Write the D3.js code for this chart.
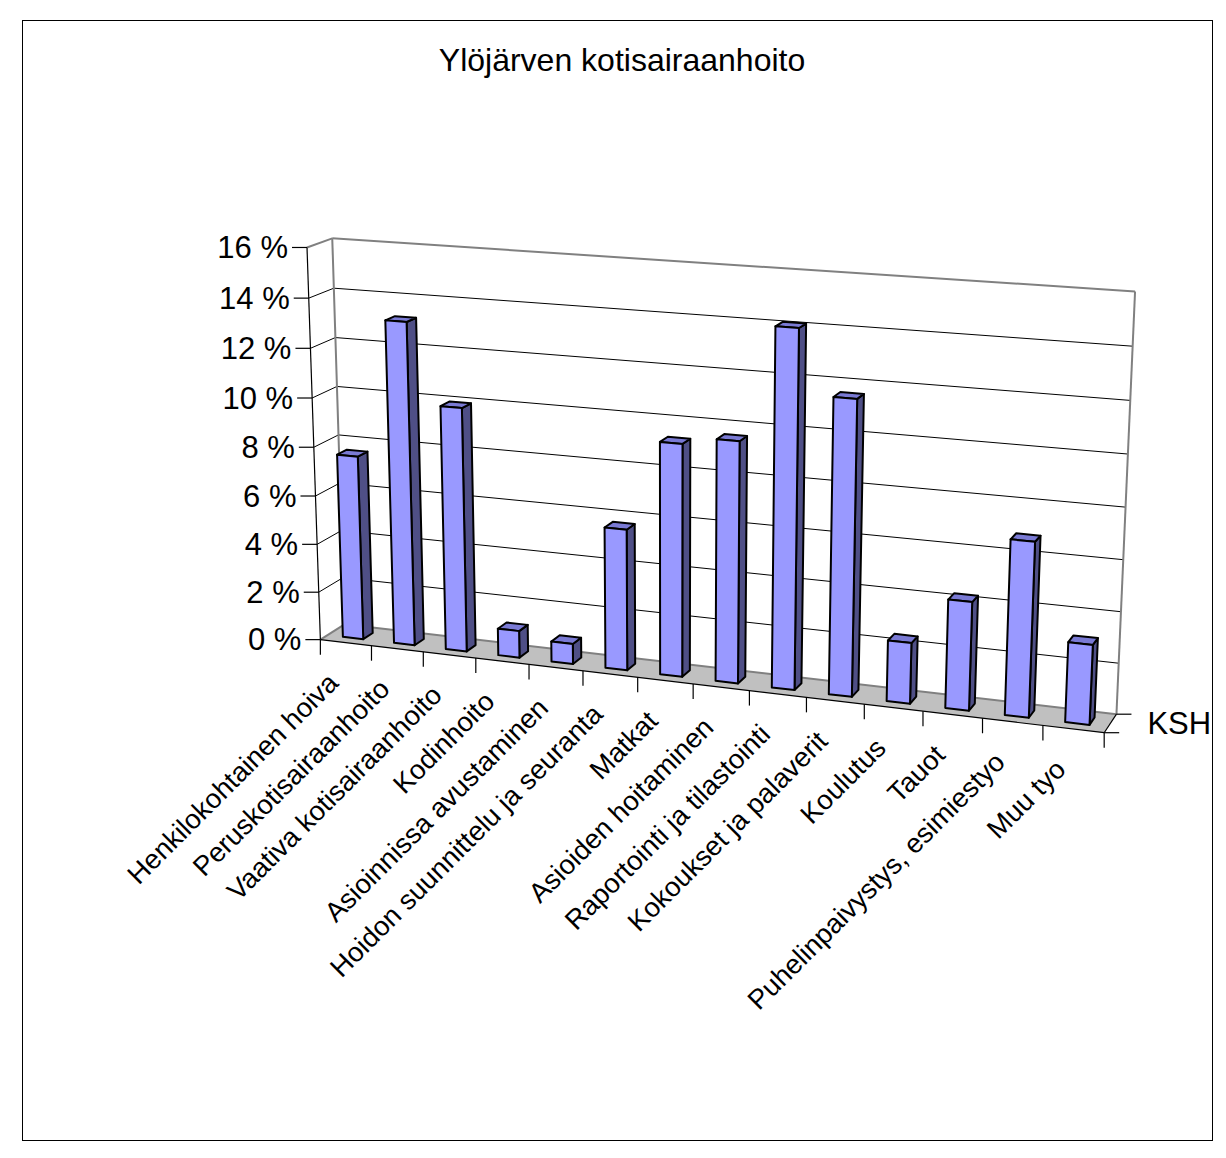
<!DOCTYPE html>
<html>
<head>
<meta charset="utf-8">
<script src="https://cdn.jsdelivr.net/npm/d3@7"></script>
<style>
  html, body { margin: 0; padding: 0; background: #ffffff; }
  svg { display: block; }
  text { font-family: Arial, "Liberation Sans", Helvetica, sans-serif; fill: #000; }
</style>
</head>
<body>
<svg id="chart" width="1226" height="1158"></svg>
<script>
// ---- data ----
const chartTitle = "Ylöjärven kotisairaanhoito";
const seriesName = "KSH";
const categories = [
  "Henkilokohtainen hoiva",
  "Peruskotisairaanhoito",
  "Vaativa kotisairaanhoito",
  "Kodinhoito",
  "Asioinnissa avustaminen",
  "Hoidon suunnittelu ja seuranta",
  "Matkat",
  "Asioiden hoitaminen",
  "Raportointi ja tilastointi",
  "Kokoukset ja palaverit",
  "Koulutus",
  "Tauot",
  "Puhelinpaivystys, esimiestyo",
  "Muu tyo"
];
const values = [7.6, 13.2, 9.95, 1.1, 0.82, 5.7, 9.3, 9.6, 14.1, 11.6, 2.4, 4.25, 6.8, 3.1];
const valueTicks = [0, 2, 4, 6, 8, 10, 12, 14, 16];

// ---- camera: where points of the unit plot box land on the page ----
// world coords: x = category axis (0..1), y = value axis (0..1), z = depth (0 front .. 1 back)
const viewAnchors = [
  { w: [0, 1, 0], s: [306.0, 247.3] },
  { w: [0, 1, 1], s: [333.3, 238.3] },
  { w: [1, 1, 1], s: [1135.0, 291.7] },
  { w: [0, 0, 0], s: [321.7, 639.3] },
  { w: [0, 0, 1], s: [343.3, 625.0] },
  { w: [1, 0, 1], s: [1116.7, 713.3] },
  { w: [1, 0, 0], s: [1104.3, 733.3] },
  { w: [4 / 14, 0, 0], s: [529.0, 664.2] },
  { w: [7 / 14, 0, 0], s: [693.0, 683.9] },
  { w: [10 / 14, 0, 0], s: [864.0, 704.4] }
];

// Direct linear transform: fit a 3x4 projective camera to the anchors
function fitCamera(anchors) {
  const cu = 700, cv = 500, k = 400;
  const A = [], b = [];
  anchors.forEach(({ w: [X, Y, Z], s: [u0, v0] }) => {
    const u = (u0 - cu) / k, v = (v0 - cv) / k;
    A.push([X, Y, Z, 1, 0, 0, 0, 0, -u * X, -u * Y, -u * Z]); b.push(u);
    A.push([0, 0, 0, 0, X, Y, Z, 1, -v * X, -v * Y, -v * Z]); b.push(v);
  });
  const n = 11;
  const M = Array.from({ length: n }, () => new Array(n + 1).fill(0));
  for (let r = 0; r < A.length; r++) {
    for (let i = 0; i < n; i++) {
      for (let j = 0; j < n; j++) M[i][j] += A[r][i] * A[r][j];
      M[i][n] += A[r][i] * b[r];
    }
  }
  for (let c = 0; c < n; c++) {
    let p = c;
    for (let r = c + 1; r < n; r++) if (Math.abs(M[r][c]) > Math.abs(M[p][c])) p = r;
    [M[c], M[p]] = [M[p], M[c]];
    for (let r = 0; r < n; r++) {
      if (r === c) continue;
      const f = M[r][c] / M[c][c];
      for (let j = c; j <= n; j++) M[r][j] -= f * M[c][j];
    }
  }
  const m = M.map((row, i) => row[n] / row[i]);
  return function (X, Y, Z) {
    const wv = m[8] * X + m[9] * Y + m[10] * Z + 1;
    const u = (m[0] * X + m[1] * Y + m[2] * Z + m[3]) / wv;
    const v = (m[4] * X + m[5] * Y + m[6] * Z + m[7]) / wv;
    return [u * k + cu, v * k + cv];
  };
}
const project = fitCamera(viewAnchors);

// ---- scales ----
const x = d3.scaleBand().domain(categories).range([0, 1]).paddingInner(0.6).paddingOuter(0.3);
const xEdge = d3.scaleLinear().domain([0, categories.length]).range([0, 1]);
const y = d3.scaleLinear().domain([0, 16]).range([0, 1]);
const barDepth = [0.3, 0.7];

const svg = d3.select("#chart");
const line = d3.line();
const poly = pts => "M" + pts.map(p => project(...p).join(",")).join("L") + "Z";
const seg = pts => line(pts.map(p => project(...p)));

// chart area frame
svg.append("rect")
  .attr("x", 22.5).attr("y", 20.5).attr("width", 1190).attr("height", 1120)
  .attr("fill", "#fff").attr("stroke", "#000").attr("stroke-width", 1);

// title
svg.append("text")
  .attr("x", 622).attr("y", 71)
  .attr("text-anchor", "middle")
  .style("font-size", "32px")
  .text(chartTitle);

// walls and floor
const box = svg.append("g");
box.append("path").attr("d", poly([[0, 0, 0], [0, 0, 1], [0, 1, 1], [0, 1, 0]])).attr("fill", "#fff");
box.append("path").attr("d", poly([[0, 0, 1], [1, 0, 1], [1, 1, 1], [0, 1, 1]])).attr("fill", "#fff");
box.append("path").attr("d", poly([[0, 0, 0], [1, 0, 0], [1, 0, 1], [0, 0, 1]])).attr("fill", "#c0c0c0");

// gridlines across the side wall and the back wall
box.selectAll("path.grid")
  .data(valueTicks.filter(t => t > 0 && t < 16))
  .join("path")
  .attr("class", "grid")
  .attr("d", t => seg([[0, y(t), 0], [0, y(t), 1], [1, y(t), 1]]))
  .attr("fill", "none").attr("stroke", "#000").attr("stroke-width", 1);

// wall edges
const wallEdges = [
  [[0, 1, 0], [0, 1, 1]], [[0, 1, 1], [1, 1, 1]],
  [[0, 0, 1], [0, 1, 1]], [[1, 0, 1], [1, 1, 1]],
  [[0, 0, 1], [1, 0, 1]], [[0, 0, 0], [0, 0, 1]]
];
box.selectAll("path.edge").data(wallEdges).join("path")
  .attr("class", "edge")
  .attr("d", seg)
  .attr("fill", "none").attr("stroke", "#808080").attr("stroke-width", 2);

// floor front and right edges (category and series axes)
box.append("path").attr("d", seg([[0, 0, 0], [1, 0, 0]])).attr("stroke", "#000").attr("stroke-width", 1.2).attr("fill", "none");
box.append("path").attr("d", seg([[1, 0, 0], [1, 0, 1]])).attr("stroke", "#000").attr("stroke-width", 1.2).attr("fill", "none");

// value axis
const axisG = svg.append("g");
axisG.append("path").attr("d", seg([[0, 0, 0], [0, 1, 0]])).attr("stroke", "#000").attr("stroke-width", 1.2).attr("fill", "none");
valueTicks.forEach(t => {
  const [px, py] = project(0, y(t), 0);
  axisG.append("line").attr("x1", px - 15).attr("x2", px).attr("y1", py).attr("y2", py)
    .attr("stroke", "#000").attr("stroke-width", 1.2);
  axisG.append("text")
    .attr("x", px - 19).attr("y", py)
    .attr("text-anchor", "end").attr("dominant-baseline", "central")
    .style("font-size", "31px")
    .text(t + " %");
});

// category ticks
d3.range(categories.length + 1).forEach(i => {
  const [px, py] = project(xEdge(i), 0, 0);
  axisG.append("line").attr("x1", px).attr("x2", px).attr("y1", py).attr("y2", py + 15)
    .attr("stroke", "#000").attr("stroke-width", 1.2);
});

// series axis ticks and name
[0, 1].forEach(zz => {
  const [px, py] = project(1, 0, zz);
  axisG.append("line").attr("x1", px).attr("x2", px + 15).attr("y1", py).attr("y2", py)
    .attr("stroke", "#000").attr("stroke-width", 1.2);
});
{
  const [px, py] = project(1, 0, 0.5);
  axisG.append("text")
    .attr("x", px + 37).attr("y", py)
    .attr("dominant-baseline", "central")
    .style("font-size", "31px")
    .text(seriesName);
}

// category labels, rotated 45 degrees and ending under each slot
categories.forEach((c, i) => {
  const [px, py] = project(xEdge(i + 0.5), 0, 0);
  const ax = px - 6, ay = py + 42;
  axisG.append("text")
    .attr("transform", `translate(${ax},${ay}) rotate(-45)`)
    .attr("text-anchor", "end")
    .style("font-size", "27.5px")
    .text(c);
});

// columns, drawn left to right
const bars = svg.append("g")
  .attr("stroke", "#000").attr("stroke-width", 2).attr("stroke-linejoin", "round");
const [z0, z1] = barDepth;
categories.forEach((c, i) => {
  const x0 = x(c), x1 = x0 + x.bandwidth(), h = y(values[i]);
  const g = bars.append("g");
  g.append("path").attr("fill", "#4f4f86")
    .attr("d", poly([[x1, 0, z0], [x1, 0, z1], [x1, h, z1], [x1, h, z0]]));
  g.append("path").attr("fill", "#7a7ad4")
    .attr("d", poly([[x0, h, z0], [x1, h, z0], [x1, h, z1], [x0, h, z1]]));
  g.append("path").attr("fill", "#9999ff")
    .attr("d", poly([[x0, 0, z0], [x1, 0, z0], [x1, h, z0], [x0, h, z0]]));
});
</script>
</body>
</html>
